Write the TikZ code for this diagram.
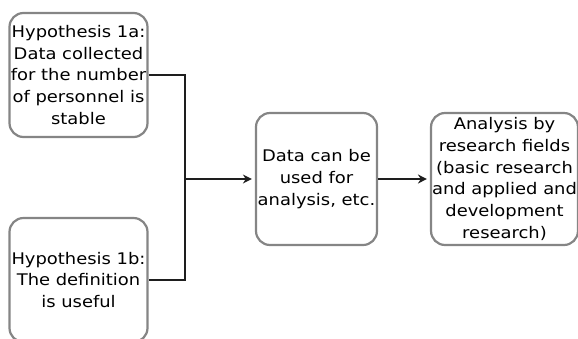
\documentclass[tikz,border=0pt]{standalone}
\usepackage{fontspec}
\setmainfont[FakeStretch=1.12]{DejaVu Sans}
\usetikzlibrary{arrows.meta}
\tikzset{
  box/.style={draw=boxgray, line width=2.2pt, rounded corners=14pt, fill=white,
    align=center, inner sep=1pt, font=\fontsize{16}{21.7}\selectfont},
  conn/.style={draw=connblack, line width=2.8pt},
  arr/.style={conn, -{Stealth[length=9pt,width=9pt]}, shorten >=3pt}
}
\definecolor{boxgray}{HTML}{858585}
\definecolor{connblack}{HTML}{1E1E1E}
\begin{document}
\begin{tikzpicture}[x=1pt,y=-1pt]
\useasboundingbox (0,0) rectangle (578,338);
\clip (0,0) rectangle (578,338);
\node[box, minimum width=138pt, minimum height=124pt] (h1a) at (78.5,75)
  {Hypothesis 1a:\\Data collected\\for the number\\of personnel is\\stable};
\node[box, minimum width=138pt, minimum height=124pt] (h1b) at (78.5,280)
  {Hypothesis 1b:\\The definition\\is useful};
\node[box, minimum width=121pt, minimum height=132pt] (mid) at (316.5,179)
  {Data can be\\used for\\analysis, etc.};
\node[box, minimum width=145pt, minimum height=132pt] (res) at (504.5,179)
  {Analysis by\\research fields\\(basic research\\and applied and\\development\\research)};
\coordinate (j) at (185,179);
\draw[conn] (h1a.east) -| (j) |- (h1b.east);
\draw[arr] (j) -- (mid.west);
\draw[arr] (mid.east) -- (res.west);
\end{tikzpicture}
\end{document}
